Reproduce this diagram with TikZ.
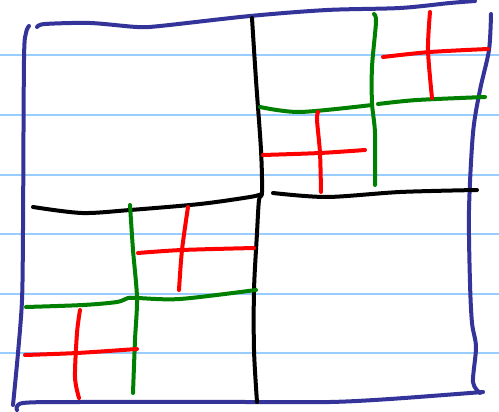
\documentclass[tikz,border=0pt]{standalone}
\usepackage{tikz}
\usetikzlibrary{calc}
\definecolor{InkNavy}{RGB}{51, 51, 153}
\definecolor{InkGreen}{RGB}{0, 128, 0}
\definecolor{InkRed}{RGB}{255, 0, 0}
\definecolor{RuleBlue}{RGB}{153, 204, 255}

\begin{document}
\begin{tikzpicture}[x=1pt, y=-1pt,
    pen/.style={line width=4pt, line cap=round, line join=round},
    rule/.style={line width=1.8pt, color=RuleBlue}]
                    \useasboundingbox (0,0) rectangle (499,412);
                    \fill[white] (0,0) rectangle (499,412);

                    % ruled paper
                    \foreach \y in {55,115,175,234,294,353}
                        \draw[rule] (0,\y) -- (499,\y);

                    % outer square
                    \draw[pen, color=InkNavy] plot[smooth, tension=0.5] coordinates {(29,26) (26,33) (24,60) (23,230) (22,300) (18,353) (13,405)};
                    \draw[pen, color=InkNavy] plot[smooth, tension=0.5] coordinates {(37,27) (45,24) (90,23) (137,27) (160,26) (250,16) (327,10) (400,8) (450,3) (475,1)};
                    \draw[pen, color=InkNavy] plot[smooth, tension=0.5] coordinates {(491,14) (489,50) (480,90) (473,133) (469,210) (470,283) (472,323) (476,347) (473,382) (480,393)};
                    \draw[pen, color=InkNavy] plot[smooth, tension=0.5] coordinates {(17,410) (23,403) (80,402) (250,402) (330,402) (390,399) (483,392)};

                    % first cut
                    \draw[pen, color=black] plot[smooth, tension=0.5] coordinates {(252,18) (256,80) (261,150) (262,192) (259,200) (257,233) (254,290) (254,350) (257,402)};
                    \draw[pen, color=black] plot[smooth, tension=0.5] coordinates {(33,207) (82,213) (130,210) (200,204) (250,197) (262,194)};
                    \draw[pen, color=black] plot[smooth, tension=0.5] coordinates {(273,193) (327,197) (400,192) (477,190)};

                    % upper right quarter
                    \draw[pen, color=InkGreen] plot[smooth, tension=0.5] coordinates {(374,14) (376,22) (372,67) (372,103) (375,133) (375,185)};
                    \draw[pen, color=InkGreen] plot[smooth, tension=0.5] coordinates {(260,107) (300,112) (372,105)};
                    \draw[pen, color=InkGreen] plot[smooth, tension=0.5] coordinates {(378,104) (417,100) (485,97)};
                    \draw[pen, color=InkRed] plot[smooth, tension=0.5] coordinates {(430,12) (428,50) (432,98)};
                    \draw[pen, color=InkRed] plot[smooth, tension=0.5] coordinates {(383,57) (430,52) (488,49)};
                    \draw[pen, color=InkRed] plot[smooth, tension=0.5] coordinates {(318,112) (317,120) (320,153) (321,192)};
                    \draw[pen, color=InkRed] plot[smooth, tension=0.5] coordinates {(263,155) (320,153) (365,150)};

                    % lower left quarter
                    \draw[pen, color=InkGreen] plot[smooth, tension=0.5] coordinates {(130,205) (133,250) (137,298) (135,340) (133,393)};
                    \draw[pen, color=InkGreen] plot[smooth, tension=0.5] coordinates {(26,307) (83,305) (117,302) (128,298) (137,298) (180,299) (256,290)};
                    \draw[pen, color=InkRed] plot[smooth, tension=0.5] coordinates {(188,207) (182,250) (179,290)};
                    \draw[pen, color=InkRed] plot[smooth, tension=0.5] coordinates {(138,253) (182,250) (254,248)};
                    \draw[pen, color=InkRed] plot[smooth, tension=0.5] coordinates {(80,310) (77,333) (75,377) (79,398)};
                    \draw[pen, color=InkRed] plot[smooth, tension=0.5] coordinates {(25,355) (77,353) (137,349)};
                \end{tikzpicture}
\end{document}
